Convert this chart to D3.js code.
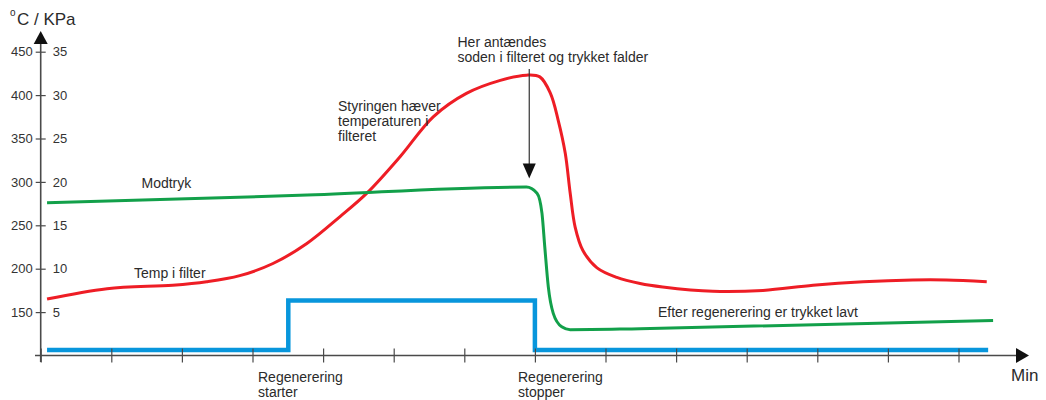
<!DOCTYPE html>
<html>
<head>
<meta charset="utf-8">
<script src="https://cdn.jsdelivr.net/npm/d3@7"></script>
<style>
  html, body { margin: 0; padding: 0; background: #fff; }
  svg { display: block; font-family: "Liberation Sans", Arial, Helvetica, sans-serif; }
  .lbl { font-size: 14px; fill: #2b2b2b; }
  .tick text { font-size: 13px; fill: #333; }
</style>
</head>
<body>
<svg id="chart" width="1046" height="400"></svg>
<script>
// ---- data ----
const minuteTicks = [0,1,2,3,4,5,6,7,8,9,10,11,12,13];
const tempTicks = [150, 200, 250, 300, 350, 400, 450];
const kpaTicks = [5, 10, 15, 20, 25, 30, 35];

// Temperature in the filter (°C) vs time (min)
const tempMin = [0.09,0.94,1.87,2.35,2.82,3.29,3.77,4.24,4.62,5.09,5.56,6.03,6.51,6.88,7.07,7.22,7.33,7.43,7.50,7.57,7.68,7.88,8.16,8.49,8.81,9.52,10.23,10.94,11.65,12.35,12.83,13.40];
const tempC   = [165,177,181,185,192,206,229,260,287,329,375,402,417,423,421,402,371,333,287,248,221,201,190,183,179,174,175,181,185,187,187,185];

// Back pressure (KPa) vs time (min)
const pressMin = [0.09,3.67,6.88,7.03,7.10,7.14,7.19,7.26,7.38,7.50,8.49,13.49];
const pressKPa = [17.6,18.45,19.4,18.7,16.4,12.5,7.9,4.85,3.3,2.97,3.08,4.04];

// Regeneration signal (0 = off, 1 = on)
const regenMin   = [0.09,3.507,3.507,7.0,7.0,13.42];
const regenState = [0,0,1,1,0,0];

// Annotation arrow (minute, °C from -> to)
const arrowMin = 6.92, arrowFrom = 430, arrowTo = 304;

// ---- scales ----
const svg = d3.select("#chart");
const x = d3.scaleLinear().domain([0, 14]).range([40.7, 1029.1]);
const yT = d3.scaleLinear().domain([100, 450]).range([355.5, 51.7]);
const yP = d3.scaleLinear().domain([0, 35]).range([355.5, 51.7]);
const yS = d3.scaleLinear().domain([0, 1]).range([350, 300.5]);

const axisColor = "#4a4a4a";

// ---- lines ----
svg.append("path")
  .attr("d", d3.line().curve(d3.curveCatmullRom.alpha(0.5))(tempMin.map((m, i) => [x(m), yT(tempC[i])])))
  .attr("fill", "none").attr("stroke", "#ee1d25").attr("stroke-width", 3);

svg.append("path")
  .attr("d", d3.line().curve(d3.curveMonotoneX)(pressMin.map((m, i) => [x(m), yP(pressKPa[i])])))
  .attr("fill", "none").attr("stroke", "#12a04a").attr("stroke-width", 3);

svg.append("path")
  .attr("d", d3.line()(regenMin.map((m, i) => [x(m), yS(regenState[i])])))
  .attr("fill", "none").attr("stroke", "#0896dc").attr("stroke-width", 4.5)
  .attr("stroke-linejoin", "miter");

// ---- x axis ----
const xAxis = svg.append("g").attr("transform", `translate(0,${yT(100)})`)
  .call(d3.axisBottom(x).tickValues(minuteTicks).tickSize(7).tickFormat(""));
xAxis.select(".domain").remove();
xAxis.selectAll(".tick line").attr("y1", -7).attr("stroke", axisColor).attr("stroke-width", 1.2);
svg.append("line").attr("x1", 35).attr("x2", 1018).attr("y1", yT(100)).attr("y2", yT(100))
  .attr("stroke", axisColor).attr("stroke-width", 1.6);
svg.append("path")
  .attr("d", `M1016,${yT(100) - 7.5}L1029,${yT(100)}L1016,${yT(100) + 7.5}Z`)
  .attr("fill", "#111");

// ---- y axes ----
const yAxisL = svg.append("g").attr("transform", `translate(${x(0)},0)`)
  .call(d3.axisLeft(yT).tickValues(tempTicks).tickSize(5).tickPadding(3));
yAxisL.select(".domain").remove();
yAxisL.selectAll(".tick line").attr("stroke", axisColor).attr("stroke-width", 1.2);

const yAxisR = svg.append("g").attr("transform", `translate(${x(0)},0)`)
  .call(d3.axisRight(yP).tickValues(kpaTicks).tickSize(5).tickPadding(7));
yAxisR.select(".domain").remove();
yAxisR.selectAll(".tick line").attr("stroke", axisColor).attr("stroke-width", 1.2);

svg.append("line").attr("x1", x(0)).attr("x2", x(0)).attr("y1", 42).attr("y2", 362)
  .attr("stroke", axisColor).attr("stroke-width", 1.6);
svg.append("path")
  .attr("d", `M${x(0) - 7},44L${x(0)},31L${x(0) + 7},44Z`)
  .attr("fill", "#111");

// axis titles
const yTitle = svg.append("text").style("font-size", "17px").attr("fill", "#2b2b2b");
yTitle.append("tspan").attr("x", 10).attr("y", 16).style("font-size", "10px").text("o");
yTitle.append("tspan").attr("x", 17).attr("y", 25).text("C / KPa");

svg.append("text").attr("x", 1011).attr("y", 381).style("font-size", "17px")
  .attr("fill", "#2b2b2b").text("Min");

// ---- annotation arrow ----
svg.append("line").attr("x1", x(arrowMin)).attr("x2", x(arrowMin))
  .attr("y1", yT(arrowFrom)).attr("y2", yT(arrowTo) - 12)
  .attr("stroke", "#333").attr("stroke-width", 1.2);
svg.append("path")
  .attr("d", `M${x(arrowMin) - 6.5},${yT(arrowTo) - 15}L${x(arrowMin)},${yT(arrowTo)}L${x(arrowMin) + 6.5},${yT(arrowTo) - 15}Z`)
  .attr("fill", "#111");

// ---- labels ----
function multi(xp, yp, lines, lh) {
  const t = svg.append("text").attr("class", "lbl");
  lines.forEach((s, i) => t.append("tspan").attr("x", xp).attr("y", yp + i * lh).text(s));
}
multi(457.5, 47, ["Her antændes", "soden i filteret og trykket falder"], 15);
multi(338, 111, ["Styringen hæver", "temperaturen i", "filteret"], 15);
multi(141.5, 188, ["Modtryk"], 15);
multi(134, 278, ["Temp i filter"], 15);
multi(658, 317, ["Efter regenerering er trykket lavt"], 15);
multi(258, 382, ["Regenerering", "starter"], 15);
multi(518, 382, ["Regenerering", "stopper"], 15);
</script>
</body>
</html>
